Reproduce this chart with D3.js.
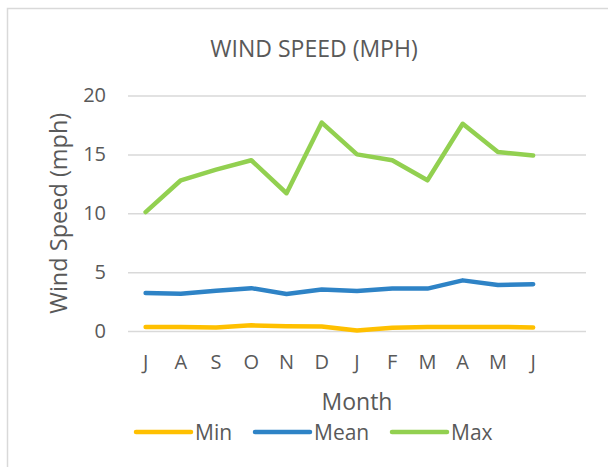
<!DOCTYPE html>
<html>
<head>
<meta charset="utf-8">
<script src="https://cdn.jsdelivr.net/npm/d3@7"></script>
<style>
  body { margin: 0; background: #fff; }
  svg text { font-family: "Open Sans", sans-serif; fill: #595959; }
</style>
</head>
<body>
<script>
// data
var months = ["J", "A", "S", "O", "N", "D", "J", "F", "M", "A", "M", "J"];
var minSpeed = [0.35, 0.35, 0.3, 0.48, 0.4, 0.38, 0.05, 0.28, 0.35, 0.35, 0.35, 0.3];
var meanSpeed = [3.22, 3.17, 3.42, 3.64, 3.15, 3.53, 3.39, 3.6, 3.6, 4.3, 3.9, 3.98];
var maxSpeed = [10.1, 12.8, 13.7, 14.5, 11.7, 17.7, 15.0, 14.5, 12.8, 17.6, 15.2, 14.9];
var yTicks = [0, 5, 10, 15, 20];

var series = [
  { name: "Min", values: minSpeed, color: "#FFC000" },
  { name: "Mean", values: meanSpeed, color: "#2E83C6" },
  { name: "Max", values: maxSpeed, color: "#92D050" }
];

var width = 608, height = 467;
var plot = { left: 128, right: 586, top: 95.5, bottom: 331 };

var svg = d3.select("body").append("svg")
  .attr("width", width)
  .attr("height", height);

// chart area border (runs off the right and bottom edges)
svg.append("rect")
  .attr("x", 7.5).attr("y", 8.5)
  .attr("width", 640).attr("height", 500)
  .attr("fill", "#fff")
  .attr("stroke", "#D9D9D9")
  .attr("stroke-width", 1.5);

// 13 slots, last one empty like the original
var x = d3.scaleBand()
  .domain(d3.range(months.length + 1))
  .range([plot.left, plot.right]);

var y = d3.scaleLinear()
  .domain([0, 20])
  .range([plot.bottom, plot.top]);

// gridlines + y labels
var yAxis = svg.append("g")
  .attr("transform", "translate(" + plot.left + ",0)")
  .call(d3.axisLeft(y).tickValues(yTicks).tickSize(-(plot.right - plot.left)).tickPadding(22));
yAxis.select(".domain").remove();
yAxis.selectAll(".tick line").attr("stroke", "#D9D9D9").attr("stroke-width", 1.5);
yAxis.selectAll(".tick text")
  .attr("font-size", 20)
  .attr("font-family", null)
  .attr("fill", "#595959");

// x labels
var xAxis = svg.append("g")
  .attr("transform", "translate(0," + plot.bottom + ")")
  .call(d3.axisBottom(x).tickSize(0).tickPadding(24).tickFormat(function (i) { return months[i] || ""; }));
xAxis.select(".domain").remove();
xAxis.selectAll(".tick text")
  .attr("font-size", 20)
  .attr("font-family", null)
  .attr("fill", "#595959");

var line = d3.line()
  .x(function (d, i) { return x(i) + x.bandwidth() / 2; })
  .y(function (d) { return y(d); });

svg.selectAll(".series")
  .data(series)
  .enter()
  .append("path")
  .attr("class", "series")
  .attr("d", function (d) { return line(d.values); })
  .attr("fill", "none")
  .attr("stroke", function (d) { return d.color; })
  .attr("stroke-width", 4.5)
  .attr("stroke-linecap", "round")
  .attr("stroke-linejoin", "round");

// title
svg.append("text")
  .attr("x", 314).attr("y", 57)
  .attr("text-anchor", "middle")
  .attr("font-size", 23)
  .text("WIND SPEED (MPH)");

// axis titles
svg.append("text")
  .attr("transform", "translate(67," + ((plot.top + plot.bottom) / 2) + ") rotate(-90)")
  .attr("text-anchor", "middle")
  .attr("font-size", 23.5)
  .text("Wind Speed (mph)");

svg.append("text")
  .attr("x", (plot.left + plot.right) / 2).attr("y", 410)
  .attr("text-anchor", "middle")
  .attr("font-size", 23)
  .text("Month");

// legend
var legendX = [136, 255, 392];
var legend = svg.selectAll(".legend")
  .data(series)
  .enter()
  .append("g")
  .attr("class", "legend")
  .attr("transform", function (d, i) { return "translate(" + legendX[i] + ",432)"; });

legend.append("line")
  .attr("x1", 0).attr("x2", 55)
  .attr("stroke", function (d) { return d.color; })
  .attr("stroke-width", 4.5)
  .attr("stroke-linecap", "round");

legend.append("text")
  .attr("x", 59).attr("y", 8)
  .attr("font-size", 21)
  .text(function (d) { return d.name; });
</script>
</body>
</html>
